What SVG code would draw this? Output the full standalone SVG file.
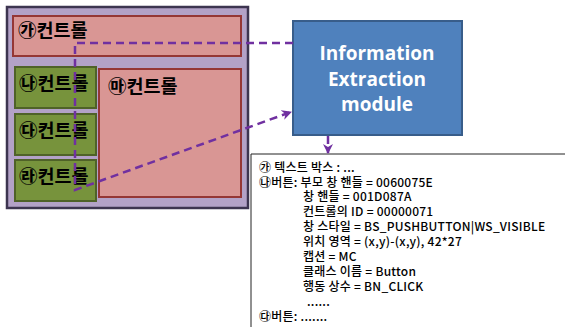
<svg xmlns="http://www.w3.org/2000/svg" width="565" height="327" viewBox="0 0 565 327">
<defs>
<marker id="ah" viewBox="0 0 10 10" refX="9" refY="5" markerWidth="4" markerHeight="4" orient="auto" markerUnits="strokeWidth">
<path d="M0,0 L10,5 L0,10 L3,5 Z" fill="#7030a0"/>
</marker>
</defs>
<style>
.win{fill:#b3a2c7;stroke:#3d3550;stroke-width:2.5}
.red{fill:#d99694;stroke:#953735;stroke-width:2}
.grn{fill:#77933c;stroke:#4f6228;stroke-width:2}
.lbl{font-family:"Noto Sans CJK KR","Noto Sans",sans-serif;font-weight:bold;font-size:18.5px;fill:#000}
.mod{fill:#4f81bd;stroke:#385d8a;stroke-width:2}
.modt{font-family:"Open Sans","Noto Sans",sans-serif;font-weight:bold;font-size:19px;fill:#fff;text-anchor:middle}
.info{font-family:"Noto Sans CJK KR","Noto Sans",sans-serif;font-size:12px;letter-spacing:0.25px;fill:#000;font-weight:500}
.dash{fill:none;stroke:#7030a0;stroke-width:2.5;stroke-dasharray:8,5}
</style>
<g id="window">
<rect class="win" x="7" y="7" width="241" height="201"/>
</g>
<g id="ctrl-ga">
<rect class="red" x="13" y="16" width="228" height="40"/>
<text class="lbl" x="18" y="37">㉮컨트롤</text>
</g>
<g id="ctrl-na">
<rect class="grn" x="15" y="67" width="81" height="41"/>
<text class="lbl" x="19" y="90">㉯컨트롤</text>
</g>
<g id="ctrl-da">
<rect class="grn" x="15" y="114" width="81" height="41"/>
<text class="lbl" x="19" y="137">㉰컨트롤</text>
</g>
<g id="ctrl-ra">
<rect class="grn" x="15" y="160" width="81" height="41"/>
<text class="lbl" x="19" y="183">㉱컨트롤</text>
</g>
<g id="ctrl-ma">
<rect class="red" x="99" y="69" width="142" height="128"/>
<text class="lbl" x="108" y="93">㉲컨트롤</text>
</g>
<g id="module">
<rect class="mod" x="293" y="21" width="169" height="114"/>
<text class="modt" x="377" y="60">Information</text>
<text class="modt" x="377" y="86">Extraction</text>
<text class="modt" x="377" y="111">module</text>
</g>
<g id="infobox">
<path d="M251,327 V154 H565" fill="#fff" stroke="#222" stroke-width="1"/>
<text class="info" x="259" y="172">㉮ 텍스트 박스 : ...</text>
<text class="info" x="259" y="187">㉯버튼: 부모 창 핸들 = 0060075E</text>
<text class="info" x="303" y="201">창 핸들 = 001D087A</text>
<text class="info" x="303" y="216">컨트롤의 ID = 00000071</text>
<text class="info" x="303" y="231">창 스타일 = BS_PUSHBUTTON|WS_VISIBLE</text>
<text class="info" x="303" y="246">위치 영역 = (x,y)-(x,y), 42*27</text>
<text class="info" x="303" y="261">캡션 = MC</text>
<text class="info" x="303" y="276">클래스 이름 = Button</text>
<text class="info" x="303" y="291">행동 상수 = BN_CLICK</text>
<text class="info" x="307" y="306">......</text>
<text class="info" x="259" y="321">㉰버튼: .......</text>
</g>
<g id="connectors">
<path class="dash" d="M293,43 H75 V190 L291,112" marker-end="url(#ah)"/>
<path class="dash" d="M328,136 V153" stroke-dasharray="6,4" marker-end="url(#ah)"/>
</g>
</svg>
